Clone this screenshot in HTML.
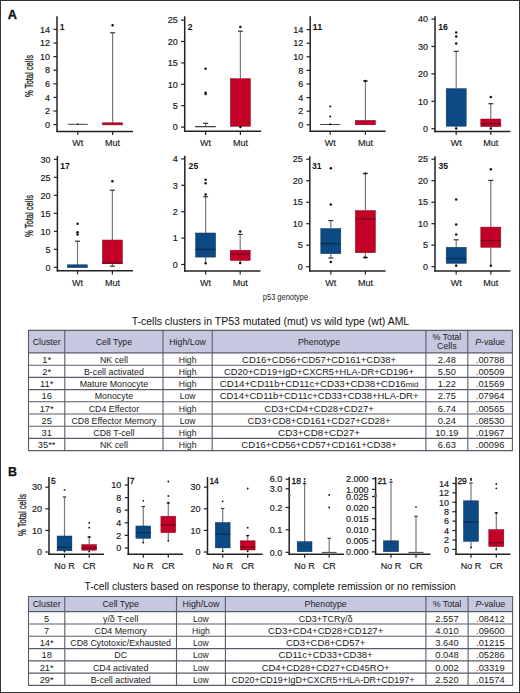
<!DOCTYPE html>
<html><head><meta charset="utf-8"><style>
html,body{margin:0;padding:0;background:#fff;}
#fig{position:absolute;left:0;top:0;width:520px;height:693px;box-sizing:border-box;border:1px solid #333;overflow:hidden;}
svg{position:absolute;left:0;top:0;}
text{font-family:"Liberation Sans", sans-serif;}
</style></head><body>
<div id="fig"></div>
<svg width="520" height="693" viewBox="0 0 520 693">
<line x1="67.8" y1="124.3" x2="87.8" y2="124.3" stroke="#444" stroke-width="1.0"/>
<circle cx="77.8" cy="124.1" r="0.8" fill="#111"/>
<line x1="112.6" y1="32.8" x2="112.6" y2="122.8" stroke="#7a7a7a" stroke-width="1.2"/>
<line x1="110.1" y1="32.8" x2="115.1" y2="32.8" stroke="#333" stroke-width="1.2"/>
<rect x="102.6" y="122.8" width="20" height="2.1000000000000085" fill="#c40026" stroke="#780a1e" stroke-width="0.5"/>
<circle cx="112.6" cy="25.32" r="1.25" fill="#111"/>
<line x1="57" y1="16.3" x2="57" y2="132.1" stroke="#222" stroke-width="1.5"/>
<line x1="56.3" y1="131.4" x2="133" y2="131.4" stroke="#222" stroke-width="1.5"/>
<line x1="53.4" y1="124.6" x2="57" y2="124.6" stroke="#222" stroke-width="1.2"/>
<text x="50.0" y="127.8" font-size="9.0" text-anchor="end" font-weight="normal" fill="#1a1a1a" stroke="#1a1a1a" stroke-width="0.18">0</text>
<line x1="53.4" y1="111.0" x2="57" y2="111.0" stroke="#222" stroke-width="1.2"/>
<text x="50.0" y="114.2" font-size="9.0" text-anchor="end" font-weight="normal" fill="#1a1a1a" stroke="#1a1a1a" stroke-width="0.18">2</text>
<line x1="53.4" y1="97.4" x2="57" y2="97.4" stroke="#222" stroke-width="1.2"/>
<text x="50.0" y="100.60000000000001" font-size="9.0" text-anchor="end" font-weight="normal" fill="#1a1a1a" stroke="#1a1a1a" stroke-width="0.18">4</text>
<line x1="53.4" y1="83.8" x2="57" y2="83.8" stroke="#222" stroke-width="1.2"/>
<text x="50.0" y="87.0" font-size="9.0" text-anchor="end" font-weight="normal" fill="#1a1a1a" stroke="#1a1a1a" stroke-width="0.18">6</text>
<line x1="53.4" y1="70.2" x2="57" y2="70.2" stroke="#222" stroke-width="1.2"/>
<text x="50.0" y="73.4" font-size="9.0" text-anchor="end" font-weight="normal" fill="#1a1a1a" stroke="#1a1a1a" stroke-width="0.18">8</text>
<line x1="53.4" y1="56.6" x2="57" y2="56.6" stroke="#222" stroke-width="1.2"/>
<text x="50.0" y="59.800000000000004" font-size="9.0" text-anchor="end" font-weight="normal" fill="#1a1a1a" stroke="#1a1a1a" stroke-width="0.18">10</text>
<line x1="53.4" y1="43.0" x2="57" y2="43.0" stroke="#222" stroke-width="1.2"/>
<text x="50.0" y="46.2" font-size="9.0" text-anchor="end" font-weight="normal" fill="#1a1a1a" stroke="#1a1a1a" stroke-width="0.18">12</text>
<line x1="53.4" y1="29.4" x2="57" y2="29.4" stroke="#222" stroke-width="1.2"/>
<text x="50.0" y="32.6" font-size="9.0" text-anchor="end" font-weight="normal" fill="#1a1a1a" stroke="#1a1a1a" stroke-width="0.18">14</text>
<line x1="77.8" y1="131.4" x2="77.8" y2="135.0" stroke="#222" stroke-width="1.2"/>
<text x="77.8" y="146.4" font-size="9.0" text-anchor="middle" font-weight="normal" fill="#1a1a1a" stroke="#1a1a1a" stroke-width="0.15">Wt</text>
<line x1="112.6" y1="131.4" x2="112.6" y2="135.0" stroke="#222" stroke-width="1.2"/>
<text x="112.6" y="146.4" font-size="9.0" text-anchor="middle" font-weight="normal" fill="#1a1a1a" stroke="#1a1a1a" stroke-width="0.15">Mut</text>
<text x="59.8" y="29.6" font-size="9.4" text-anchor="start" font-weight="bold" fill="#111" textLength="4.8" lengthAdjust="spacingAndGlyphs" >1</text>
<line x1="205.6" y1="123.3" x2="205.6" y2="126.5" stroke="#7a7a7a" stroke-width="1.2"/>
<line x1="203.1" y1="123.3" x2="208.1" y2="123.3" stroke="#333" stroke-width="1.2"/>
<rect x="195.6" y="126.5" width="20" height="0.5" fill="#0d4a84" stroke="#082f5a" stroke-width="0.5"/>
<line x1="195.6" y1="126.5" x2="215.6" y2="126.5" stroke="#444" stroke-width="1.0"/>
<circle cx="205.6" cy="68.8" r="1.25" fill="#111"/>
<circle cx="205.6" cy="92.7" r="1.25" fill="#111"/>
<circle cx="205.6" cy="94.0" r="1.25" fill="#111"/>
<line x1="240.4" y1="31.2" x2="240.4" y2="78.7" stroke="#7a7a7a" stroke-width="1.2"/>
<line x1="237.9" y1="31.2" x2="242.9" y2="31.2" stroke="#333" stroke-width="1.2"/>
<rect x="230.4" y="78.7" width="20" height="47.599999999999994" fill="#c40026" stroke="#780a1e" stroke-width="0.5"/>
<circle cx="240.4" cy="27.0" r="1.25" fill="#111"/>
<circle cx="240.4" cy="127.0" r="1.25" fill="#111"/>
<line x1="184.7" y1="16.3" x2="184.7" y2="132.0" stroke="#222" stroke-width="1.5"/>
<line x1="184.0" y1="131.3" x2="261.2" y2="131.3" stroke="#222" stroke-width="1.5"/>
<line x1="181.1" y1="127.1" x2="184.7" y2="127.1" stroke="#222" stroke-width="1.2"/>
<text x="177.7" y="130.29999999999998" font-size="9.0" text-anchor="end" font-weight="normal" fill="#1a1a1a" stroke="#1a1a1a" stroke-width="0.18">0</text>
<line x1="181.1" y1="105.7" x2="184.7" y2="105.7" stroke="#222" stroke-width="1.2"/>
<text x="177.7" y="108.9" font-size="9.0" text-anchor="end" font-weight="normal" fill="#1a1a1a" stroke="#1a1a1a" stroke-width="0.18">5</text>
<line x1="181.1" y1="84.3" x2="184.7" y2="84.3" stroke="#222" stroke-width="1.2"/>
<text x="177.7" y="87.5" font-size="9.0" text-anchor="end" font-weight="normal" fill="#1a1a1a" stroke="#1a1a1a" stroke-width="0.18">10</text>
<line x1="181.1" y1="62.9" x2="184.7" y2="62.9" stroke="#222" stroke-width="1.2"/>
<text x="177.7" y="66.1" font-size="9.0" text-anchor="end" font-weight="normal" fill="#1a1a1a" stroke="#1a1a1a" stroke-width="0.18">15</text>
<line x1="181.1" y1="41.5" x2="184.7" y2="41.5" stroke="#222" stroke-width="1.2"/>
<text x="177.7" y="44.7" font-size="9.0" text-anchor="end" font-weight="normal" fill="#1a1a1a" stroke="#1a1a1a" stroke-width="0.18">20</text>
<line x1="181.1" y1="20.1" x2="184.7" y2="20.1" stroke="#222" stroke-width="1.2"/>
<text x="177.7" y="23.3" font-size="9.0" text-anchor="end" font-weight="normal" fill="#1a1a1a" stroke="#1a1a1a" stroke-width="0.18">25</text>
<line x1="205.6" y1="131.3" x2="205.6" y2="134.9" stroke="#222" stroke-width="1.2"/>
<text x="205.6" y="146.4" font-size="9.0" text-anchor="middle" font-weight="normal" fill="#1a1a1a" stroke="#1a1a1a" stroke-width="0.15">Wt</text>
<line x1="240.4" y1="131.3" x2="240.4" y2="134.9" stroke="#222" stroke-width="1.2"/>
<text x="240.4" y="146.4" font-size="9.0" text-anchor="middle" font-weight="normal" fill="#1a1a1a" stroke="#1a1a1a" stroke-width="0.15">Mut</text>
<text x="187.8" y="29.6" font-size="9.4" text-anchor="start" font-weight="bold" fill="#111" textLength="4.8" lengthAdjust="spacingAndGlyphs" >2</text>
<line x1="320.2" y1="124.5" x2="340.2" y2="124.5" stroke="#444" stroke-width="1.0"/>
<circle cx="330.2" cy="106.5" r="1.0" fill="#111"/>
<circle cx="330.2" cy="116.5" r="1.0" fill="#111"/>
<circle cx="330.2" cy="124.2" r="1.0" fill="#111"/>
<line x1="365.4" y1="81.0" x2="365.4" y2="120.4" stroke="#7a7a7a" stroke-width="1.2"/>
<line x1="362.9" y1="81.0" x2="367.9" y2="81.0" stroke="#333" stroke-width="1.2"/>
<rect x="355.4" y="120.4" width="20" height="4.3999999999999915" fill="#c40026" stroke="#780a1e" stroke-width="0.5"/>
<circle cx="365.4" cy="81.0" r="1.25" fill="#111"/>
<line x1="310.2" y1="16.3" x2="310.2" y2="131.89999999999998" stroke="#222" stroke-width="1.5"/>
<line x1="309.5" y1="131.2" x2="385.6" y2="131.2" stroke="#222" stroke-width="1.5"/>
<line x1="306.59999999999997" y1="124.8" x2="310.2" y2="124.8" stroke="#222" stroke-width="1.2"/>
<text x="303.2" y="128.0" font-size="9.0" text-anchor="end" font-weight="normal" fill="#1a1a1a" stroke="#1a1a1a" stroke-width="0.18">0</text>
<line x1="306.59999999999997" y1="111.2" x2="310.2" y2="111.2" stroke="#222" stroke-width="1.2"/>
<text x="303.2" y="114.4" font-size="9.0" text-anchor="end" font-weight="normal" fill="#1a1a1a" stroke="#1a1a1a" stroke-width="0.18">2</text>
<line x1="306.59999999999997" y1="97.6" x2="310.2" y2="97.6" stroke="#222" stroke-width="1.2"/>
<text x="303.2" y="100.8" font-size="9.0" text-anchor="end" font-weight="normal" fill="#1a1a1a" stroke="#1a1a1a" stroke-width="0.18">4</text>
<line x1="306.59999999999997" y1="84.0" x2="310.2" y2="84.0" stroke="#222" stroke-width="1.2"/>
<text x="303.2" y="87.2" font-size="9.0" text-anchor="end" font-weight="normal" fill="#1a1a1a" stroke="#1a1a1a" stroke-width="0.18">6</text>
<line x1="306.59999999999997" y1="70.4" x2="310.2" y2="70.4" stroke="#222" stroke-width="1.2"/>
<text x="303.2" y="73.60000000000001" font-size="9.0" text-anchor="end" font-weight="normal" fill="#1a1a1a" stroke="#1a1a1a" stroke-width="0.18">8</text>
<line x1="306.59999999999997" y1="56.8" x2="310.2" y2="56.8" stroke="#222" stroke-width="1.2"/>
<text x="303.2" y="60.0" font-size="9.0" text-anchor="end" font-weight="normal" fill="#1a1a1a" stroke="#1a1a1a" stroke-width="0.18">10</text>
<line x1="306.59999999999997" y1="43.2" x2="310.2" y2="43.2" stroke="#222" stroke-width="1.2"/>
<text x="303.2" y="46.400000000000006" font-size="9.0" text-anchor="end" font-weight="normal" fill="#1a1a1a" stroke="#1a1a1a" stroke-width="0.18">12</text>
<line x1="306.59999999999997" y1="29.6" x2="310.2" y2="29.6" stroke="#222" stroke-width="1.2"/>
<text x="303.2" y="32.800000000000004" font-size="9.0" text-anchor="end" font-weight="normal" fill="#1a1a1a" stroke="#1a1a1a" stroke-width="0.18">14</text>
<line x1="330.2" y1="131.2" x2="330.2" y2="134.79999999999998" stroke="#222" stroke-width="1.2"/>
<text x="330.2" y="146.4" font-size="9.0" text-anchor="middle" font-weight="normal" fill="#1a1a1a" stroke="#1a1a1a" stroke-width="0.15">Wt</text>
<line x1="365.4" y1="131.2" x2="365.4" y2="134.79999999999998" stroke="#222" stroke-width="1.2"/>
<text x="365.4" y="146.4" font-size="9.0" text-anchor="middle" font-weight="normal" fill="#1a1a1a" stroke="#1a1a1a" stroke-width="0.15">Mut</text>
<text x="312.6" y="29.8" font-size="9.4" text-anchor="start" font-weight="bold" fill="#111" textLength="9.6" lengthAdjust="spacingAndGlyphs" >11</text>
<line x1="456.2" y1="51.3" x2="456.2" y2="88.7" stroke="#7a7a7a" stroke-width="1.2"/>
<line x1="453.7" y1="51.3" x2="458.7" y2="51.3" stroke="#333" stroke-width="1.2"/>
<line x1="456.2" y1="128.4" x2="456.2" y2="126.2" stroke="#7a7a7a" stroke-width="1.2"/>
<rect x="446.2" y="88.7" width="20" height="37.5" fill="#0d4a84" stroke="#082f5a" stroke-width="0.5"/>
<circle cx="456.2" cy="32.4" r="1.25" fill="#111"/>
<circle cx="456.2" cy="36.6" r="1.25" fill="#111"/>
<circle cx="456.2" cy="43.5" r="1.25" fill="#111"/>
<circle cx="456.2" cy="128.4" r="1.25" fill="#111"/>
<line x1="490.8" y1="103.7" x2="490.8" y2="119.0" stroke="#7a7a7a" stroke-width="1.2"/>
<line x1="488.3" y1="103.7" x2="493.3" y2="103.7" stroke="#333" stroke-width="1.2"/>
<line x1="490.8" y1="128.4" x2="490.8" y2="126.7" stroke="#7a7a7a" stroke-width="1.2"/>
<rect x="480.8" y="119.0" width="20" height="7.700000000000003" fill="#c40026" stroke="#780a1e" stroke-width="0.5"/>
<line x1="480.8" y1="123.8" x2="500.8" y2="123.8" stroke="#780a1e" stroke-width="1.5"/>
<circle cx="490.8" cy="97.0" r="1.25" fill="#111"/>
<circle cx="490.8" cy="128.4" r="1.25" fill="#111"/>
<line x1="435" y1="16.3" x2="435" y2="132.2" stroke="#222" stroke-width="1.5"/>
<line x1="434.3" y1="131.5" x2="510.4" y2="131.5" stroke="#222" stroke-width="1.5"/>
<line x1="431.4" y1="128.7" x2="435" y2="128.7" stroke="#222" stroke-width="1.2"/>
<text x="428.0" y="131.89999999999998" font-size="9.0" text-anchor="end" font-weight="normal" fill="#1a1a1a" stroke="#1a1a1a" stroke-width="0.18">0</text>
<line x1="431.4" y1="101.3" x2="435" y2="101.3" stroke="#222" stroke-width="1.2"/>
<text x="428.0" y="104.5" font-size="9.0" text-anchor="end" font-weight="normal" fill="#1a1a1a" stroke="#1a1a1a" stroke-width="0.18">10</text>
<line x1="431.4" y1="73.9" x2="435" y2="73.9" stroke="#222" stroke-width="1.2"/>
<text x="428.0" y="77.10000000000001" font-size="9.0" text-anchor="end" font-weight="normal" fill="#1a1a1a" stroke="#1a1a1a" stroke-width="0.18">20</text>
<line x1="431.4" y1="46.5" x2="435" y2="46.5" stroke="#222" stroke-width="1.2"/>
<text x="428.0" y="49.7" font-size="9.0" text-anchor="end" font-weight="normal" fill="#1a1a1a" stroke="#1a1a1a" stroke-width="0.18">30</text>
<line x1="431.4" y1="19.1" x2="435" y2="19.1" stroke="#222" stroke-width="1.2"/>
<text x="428.0" y="22.3" font-size="9.0" text-anchor="end" font-weight="normal" fill="#1a1a1a" stroke="#1a1a1a" stroke-width="0.18">40</text>
<line x1="456.2" y1="131.5" x2="456.2" y2="135.1" stroke="#222" stroke-width="1.2"/>
<text x="456.2" y="146.4" font-size="9.0" text-anchor="middle" font-weight="normal" fill="#1a1a1a" stroke="#1a1a1a" stroke-width="0.15">Wt</text>
<line x1="490.8" y1="131.5" x2="490.8" y2="135.1" stroke="#222" stroke-width="1.2"/>
<text x="490.8" y="146.4" font-size="9.0" text-anchor="middle" font-weight="normal" fill="#1a1a1a" stroke="#1a1a1a" stroke-width="0.15">Mut</text>
<text x="438.2" y="29.6" font-size="9.4" text-anchor="start" font-weight="bold" fill="#111" textLength="9.6" lengthAdjust="spacingAndGlyphs" >16</text>
<line x1="77.5" y1="241.2" x2="77.5" y2="264.8" stroke="#7a7a7a" stroke-width="1.2"/>
<line x1="75.0" y1="241.2" x2="80.0" y2="241.2" stroke="#333" stroke-width="1.2"/>
<rect x="67.5" y="264.8" width="20" height="2.8000000000000114" fill="#0d4a84" stroke="#082f5a" stroke-width="0.5"/>
<circle cx="77.5" cy="234.4" r="1.25" fill="#111"/>
<circle cx="77.5" cy="232.3" r="1.25" fill="#111"/>
<circle cx="77.5" cy="223.8" r="1.25" fill="#111"/>
<line x1="112.4" y1="190.2" x2="112.4" y2="240.0" stroke="#7a7a7a" stroke-width="1.2"/>
<line x1="109.9" y1="190.2" x2="114.9" y2="190.2" stroke="#333" stroke-width="1.2"/>
<line x1="112.4" y1="266.2" x2="112.4" y2="263.8" stroke="#7a7a7a" stroke-width="1.2"/>
<line x1="109.9" y1="266.2" x2="114.9" y2="266.2" stroke="#333" stroke-width="1.2"/>
<rect x="102.4" y="240.0" width="20" height="23.80000000000001" fill="#c40026" stroke="#780a1e" stroke-width="0.5"/>
<line x1="102.4" y1="263.0" x2="122.4" y2="263.0" stroke="#780a1e" stroke-width="1.5"/>
<circle cx="112.4" cy="181.3" r="1.25" fill="#111"/>
<line x1="57.4" y1="155.9" x2="57.4" y2="271.5" stroke="#222" stroke-width="1.5"/>
<line x1="56.699999999999996" y1="270.8" x2="133" y2="270.8" stroke="#222" stroke-width="1.5"/>
<line x1="53.8" y1="267.3" x2="57.4" y2="267.3" stroke="#222" stroke-width="1.2"/>
<text x="50.4" y="270.5" font-size="9.0" text-anchor="end" font-weight="normal" fill="#1a1a1a" stroke="#1a1a1a" stroke-width="0.18">0</text>
<line x1="53.8" y1="249.3" x2="57.4" y2="249.3" stroke="#222" stroke-width="1.2"/>
<text x="50.4" y="252.5" font-size="9.0" text-anchor="end" font-weight="normal" fill="#1a1a1a" stroke="#1a1a1a" stroke-width="0.18">5</text>
<line x1="53.8" y1="231.3" x2="57.4" y2="231.3" stroke="#222" stroke-width="1.2"/>
<text x="50.4" y="234.5" font-size="9.0" text-anchor="end" font-weight="normal" fill="#1a1a1a" stroke="#1a1a1a" stroke-width="0.18">10</text>
<line x1="53.8" y1="213.3" x2="57.4" y2="213.3" stroke="#222" stroke-width="1.2"/>
<text x="50.4" y="216.5" font-size="9.0" text-anchor="end" font-weight="normal" fill="#1a1a1a" stroke="#1a1a1a" stroke-width="0.18">15</text>
<line x1="53.8" y1="195.3" x2="57.4" y2="195.3" stroke="#222" stroke-width="1.2"/>
<text x="50.4" y="198.5" font-size="9.0" text-anchor="end" font-weight="normal" fill="#1a1a1a" stroke="#1a1a1a" stroke-width="0.18">20</text>
<line x1="53.8" y1="177.3" x2="57.4" y2="177.3" stroke="#222" stroke-width="1.2"/>
<text x="50.4" y="180.5" font-size="9.0" text-anchor="end" font-weight="normal" fill="#1a1a1a" stroke="#1a1a1a" stroke-width="0.18">25</text>
<line x1="53.8" y1="159.3" x2="57.4" y2="159.3" stroke="#222" stroke-width="1.2"/>
<text x="50.4" y="162.5" font-size="9.0" text-anchor="end" font-weight="normal" fill="#1a1a1a" stroke="#1a1a1a" stroke-width="0.18">30</text>
<line x1="77.5" y1="270.8" x2="77.5" y2="274.40000000000003" stroke="#222" stroke-width="1.2"/>
<text x="77.5" y="286.0" font-size="9.0" text-anchor="middle" font-weight="normal" fill="#1a1a1a" stroke="#1a1a1a" stroke-width="0.15">Wt</text>
<line x1="112.4" y1="270.8" x2="112.4" y2="274.40000000000003" stroke="#222" stroke-width="1.2"/>
<text x="112.4" y="286.0" font-size="9.0" text-anchor="middle" font-weight="normal" fill="#1a1a1a" stroke="#1a1a1a" stroke-width="0.15">Mut</text>
<text x="60.2" y="169" font-size="9.4" text-anchor="start" font-weight="bold" fill="#111" textLength="9.6" lengthAdjust="spacingAndGlyphs" >17</text>
<line x1="205.6" y1="196.7" x2="205.6" y2="233.0" stroke="#7a7a7a" stroke-width="1.2"/>
<line x1="203.1" y1="196.7" x2="208.1" y2="196.7" stroke="#333" stroke-width="1.2"/>
<line x1="205.6" y1="263.3" x2="205.6" y2="257.1" stroke="#7a7a7a" stroke-width="1.2"/>
<rect x="195.6" y="233.0" width="20" height="24.100000000000023" fill="#0d4a84" stroke="#082f5a" stroke-width="0.5"/>
<line x1="195.6" y1="249.4" x2="215.6" y2="249.4" stroke="#082f5a" stroke-width="1.5"/>
<circle cx="205.6" cy="194.6" r="1.25" fill="#111"/>
<circle cx="205.6" cy="183.3" r="1.25" fill="#111"/>
<circle cx="205.6" cy="179.8" r="1.25" fill="#111"/>
<circle cx="205.6" cy="263.3" r="1.25" fill="#111"/>
<line x1="240.2" y1="234.4" x2="240.2" y2="250.2" stroke="#7a7a7a" stroke-width="1.2"/>
<line x1="237.7" y1="234.4" x2="242.7" y2="234.4" stroke="#333" stroke-width="1.2"/>
<line x1="240.2" y1="263.0" x2="240.2" y2="260.4" stroke="#7a7a7a" stroke-width="1.2"/>
<rect x="230.2" y="250.2" width="20" height="10.199999999999989" fill="#c40026" stroke="#780a1e" stroke-width="0.5"/>
<line x1="230.2" y1="254.2" x2="250.2" y2="254.2" stroke="#780a1e" stroke-width="1.5"/>
<circle cx="240.2" cy="231.5" r="1.25" fill="#111"/>
<circle cx="240.2" cy="263.0" r="1.25" fill="#111"/>
<line x1="184.8" y1="155.8" x2="184.8" y2="271.7" stroke="#222" stroke-width="1.5"/>
<line x1="184.10000000000002" y1="271" x2="260.4" y2="271" stroke="#222" stroke-width="1.5"/>
<line x1="181.20000000000002" y1="264.5" x2="184.8" y2="264.5" stroke="#222" stroke-width="1.2"/>
<text x="177.8" y="267.7" font-size="9.0" text-anchor="end" font-weight="normal" fill="#1a1a1a" stroke="#1a1a1a" stroke-width="0.18">0</text>
<line x1="181.20000000000002" y1="238.1" x2="184.8" y2="238.1" stroke="#222" stroke-width="1.2"/>
<text x="177.8" y="241.29999999999998" font-size="9.0" text-anchor="end" font-weight="normal" fill="#1a1a1a" stroke="#1a1a1a" stroke-width="0.18">1</text>
<line x1="181.20000000000002" y1="211.7" x2="184.8" y2="211.7" stroke="#222" stroke-width="1.2"/>
<text x="177.8" y="214.89999999999998" font-size="9.0" text-anchor="end" font-weight="normal" fill="#1a1a1a" stroke="#1a1a1a" stroke-width="0.18">2</text>
<line x1="181.20000000000002" y1="185.3" x2="184.8" y2="185.3" stroke="#222" stroke-width="1.2"/>
<text x="177.8" y="188.5" font-size="9.0" text-anchor="end" font-weight="normal" fill="#1a1a1a" stroke="#1a1a1a" stroke-width="0.18">3</text>
<line x1="181.20000000000002" y1="158.9" x2="184.8" y2="158.9" stroke="#222" stroke-width="1.2"/>
<text x="177.8" y="162.1" font-size="9.0" text-anchor="end" font-weight="normal" fill="#1a1a1a" stroke="#1a1a1a" stroke-width="0.18">4</text>
<line x1="205.6" y1="271" x2="205.6" y2="274.6" stroke="#222" stroke-width="1.2"/>
<text x="205.6" y="286.0" font-size="9.0" text-anchor="middle" font-weight="normal" fill="#1a1a1a" stroke="#1a1a1a" stroke-width="0.15">Wt</text>
<line x1="240.2" y1="271" x2="240.2" y2="274.6" stroke="#222" stroke-width="1.2"/>
<text x="240.2" y="286.0" font-size="9.0" text-anchor="middle" font-weight="normal" fill="#1a1a1a" stroke="#1a1a1a" stroke-width="0.15">Mut</text>
<text x="188.6" y="169.2" font-size="9.4" text-anchor="start" font-weight="bold" fill="#111" textLength="9.6" lengthAdjust="spacingAndGlyphs" >25</text>
<line x1="330.8" y1="220.6" x2="330.8" y2="228.6" stroke="#7a7a7a" stroke-width="1.2"/>
<line x1="328.3" y1="220.6" x2="333.3" y2="220.6" stroke="#333" stroke-width="1.2"/>
<line x1="330.8" y1="258.0" x2="330.8" y2="253.7" stroke="#7a7a7a" stroke-width="1.2"/>
<line x1="328.3" y1="258.0" x2="333.3" y2="258.0" stroke="#333" stroke-width="1.2"/>
<rect x="320.8" y="228.6" width="20" height="25.099999999999994" fill="#0d4a84" stroke="#082f5a" stroke-width="0.5"/>
<line x1="320.8" y1="243.7" x2="340.8" y2="243.7" stroke="#082f5a" stroke-width="1.5"/>
<circle cx="330.8" cy="204.4" r="1.25" fill="#111"/>
<circle cx="330.8" cy="168.3" r="1.25" fill="#111"/>
<circle cx="330.8" cy="262.0" r="1.25" fill="#111"/>
<line x1="365.4" y1="173.5" x2="365.4" y2="210.6" stroke="#7a7a7a" stroke-width="1.2"/>
<line x1="362.9" y1="173.5" x2="367.9" y2="173.5" stroke="#333" stroke-width="1.2"/>
<line x1="365.4" y1="257.5" x2="365.4" y2="252.7" stroke="#7a7a7a" stroke-width="1.2"/>
<line x1="362.9" y1="257.5" x2="367.9" y2="257.5" stroke="#333" stroke-width="1.2"/>
<rect x="355.4" y="210.6" width="20" height="42.099999999999994" fill="#c40026" stroke="#780a1e" stroke-width="0.5"/>
<line x1="355.4" y1="218.8" x2="375.4" y2="218.8" stroke="#780a1e" stroke-width="1.5"/>
<circle cx="365.4" cy="173.5" r="1.25" fill="#111"/>
<circle cx="365.4" cy="257.5" r="1.25" fill="#111"/>
<line x1="309.8" y1="156.2" x2="309.8" y2="271.7" stroke="#222" stroke-width="1.5"/>
<line x1="309.1" y1="271" x2="385.6" y2="271" stroke="#222" stroke-width="1.5"/>
<line x1="306.2" y1="266.7" x2="309.8" y2="266.7" stroke="#222" stroke-width="1.2"/>
<text x="302.8" y="269.9" font-size="9.0" text-anchor="end" font-weight="normal" fill="#1a1a1a" stroke="#1a1a1a" stroke-width="0.18">0</text>
<line x1="306.2" y1="245.2" x2="309.8" y2="245.2" stroke="#222" stroke-width="1.2"/>
<text x="302.8" y="248.39999999999998" font-size="9.0" text-anchor="end" font-weight="normal" fill="#1a1a1a" stroke="#1a1a1a" stroke-width="0.18">5</text>
<line x1="306.2" y1="223.7" x2="309.8" y2="223.7" stroke="#222" stroke-width="1.2"/>
<text x="302.8" y="226.89999999999998" font-size="9.0" text-anchor="end" font-weight="normal" fill="#1a1a1a" stroke="#1a1a1a" stroke-width="0.18">10</text>
<line x1="306.2" y1="202.2" x2="309.8" y2="202.2" stroke="#222" stroke-width="1.2"/>
<text x="302.8" y="205.39999999999998" font-size="9.0" text-anchor="end" font-weight="normal" fill="#1a1a1a" stroke="#1a1a1a" stroke-width="0.18">15</text>
<line x1="306.2" y1="180.7" x2="309.8" y2="180.7" stroke="#222" stroke-width="1.2"/>
<text x="302.8" y="183.89999999999998" font-size="9.0" text-anchor="end" font-weight="normal" fill="#1a1a1a" stroke="#1a1a1a" stroke-width="0.18">20</text>
<line x1="306.2" y1="159.2" x2="309.8" y2="159.2" stroke="#222" stroke-width="1.2"/>
<text x="302.8" y="162.39999999999998" font-size="9.0" text-anchor="end" font-weight="normal" fill="#1a1a1a" stroke="#1a1a1a" stroke-width="0.18">25</text>
<line x1="330.8" y1="271" x2="330.8" y2="274.6" stroke="#222" stroke-width="1.2"/>
<text x="330.8" y="286.0" font-size="9.0" text-anchor="middle" font-weight="normal" fill="#1a1a1a" stroke="#1a1a1a" stroke-width="0.15">Wt</text>
<line x1="365.4" y1="271" x2="365.4" y2="274.6" stroke="#222" stroke-width="1.2"/>
<text x="365.4" y="286.0" font-size="9.0" text-anchor="middle" font-weight="normal" fill="#1a1a1a" stroke="#1a1a1a" stroke-width="0.15">Mut</text>
<text x="312" y="169.2" font-size="9.4" text-anchor="start" font-weight="bold" fill="#111" textLength="9.6" lengthAdjust="spacingAndGlyphs" >31</text>
<line x1="456.2" y1="239.8" x2="456.2" y2="247.3" stroke="#7a7a7a" stroke-width="1.2"/>
<line x1="453.7" y1="239.8" x2="458.7" y2="239.8" stroke="#333" stroke-width="1.2"/>
<line x1="456.2" y1="265.8" x2="456.2" y2="263.3" stroke="#7a7a7a" stroke-width="1.2"/>
<rect x="446.2" y="247.3" width="20" height="16.0" fill="#0d4a84" stroke="#082f5a" stroke-width="0.5"/>
<line x1="446.2" y1="258.5" x2="466.2" y2="258.5" stroke="#082f5a" stroke-width="1.5"/>
<circle cx="456.2" cy="234.4" r="1.25" fill="#111"/>
<circle cx="456.2" cy="224.4" r="1.25" fill="#111"/>
<circle cx="456.2" cy="199.6" r="1.25" fill="#111"/>
<circle cx="456.2" cy="265.8" r="1.25" fill="#111"/>
<line x1="490.8" y1="180.4" x2="490.8" y2="227.1" stroke="#7a7a7a" stroke-width="1.2"/>
<line x1="488.3" y1="180.4" x2="493.3" y2="180.4" stroke="#333" stroke-width="1.2"/>
<line x1="490.8" y1="265.8" x2="490.8" y2="247.3" stroke="#7a7a7a" stroke-width="1.2"/>
<rect x="480.8" y="227.1" width="20" height="20.200000000000017" fill="#c40026" stroke="#780a1e" stroke-width="0.5"/>
<line x1="480.8" y1="240.6" x2="500.8" y2="240.6" stroke="#780a1e" stroke-width="1.5"/>
<circle cx="490.8" cy="169.2" r="1.25" fill="#111"/>
<circle cx="490.8" cy="265.8" r="1.25" fill="#111"/>
<line x1="435" y1="156.2" x2="435" y2="271.7" stroke="#222" stroke-width="1.5"/>
<line x1="434.3" y1="271" x2="510.4" y2="271" stroke="#222" stroke-width="1.5"/>
<line x1="431.4" y1="266.7" x2="435" y2="266.7" stroke="#222" stroke-width="1.2"/>
<text x="428.0" y="269.9" font-size="9.0" text-anchor="end" font-weight="normal" fill="#1a1a1a" stroke="#1a1a1a" stroke-width="0.18">0</text>
<line x1="431.4" y1="245.2" x2="435" y2="245.2" stroke="#222" stroke-width="1.2"/>
<text x="428.0" y="248.39999999999998" font-size="9.0" text-anchor="end" font-weight="normal" fill="#1a1a1a" stroke="#1a1a1a" stroke-width="0.18">5</text>
<line x1="431.4" y1="223.7" x2="435" y2="223.7" stroke="#222" stroke-width="1.2"/>
<text x="428.0" y="226.89999999999998" font-size="9.0" text-anchor="end" font-weight="normal" fill="#1a1a1a" stroke="#1a1a1a" stroke-width="0.18">10</text>
<line x1="431.4" y1="202.2" x2="435" y2="202.2" stroke="#222" stroke-width="1.2"/>
<text x="428.0" y="205.39999999999998" font-size="9.0" text-anchor="end" font-weight="normal" fill="#1a1a1a" stroke="#1a1a1a" stroke-width="0.18">15</text>
<line x1="431.4" y1="180.7" x2="435" y2="180.7" stroke="#222" stroke-width="1.2"/>
<text x="428.0" y="183.89999999999998" font-size="9.0" text-anchor="end" font-weight="normal" fill="#1a1a1a" stroke="#1a1a1a" stroke-width="0.18">20</text>
<line x1="431.4" y1="159.2" x2="435" y2="159.2" stroke="#222" stroke-width="1.2"/>
<text x="428.0" y="162.39999999999998" font-size="9.0" text-anchor="end" font-weight="normal" fill="#1a1a1a" stroke="#1a1a1a" stroke-width="0.18">25</text>
<line x1="456.2" y1="271" x2="456.2" y2="274.6" stroke="#222" stroke-width="1.2"/>
<text x="456.2" y="286.0" font-size="9.0" text-anchor="middle" font-weight="normal" fill="#1a1a1a" stroke="#1a1a1a" stroke-width="0.15">Wt</text>
<line x1="490.8" y1="271" x2="490.8" y2="274.6" stroke="#222" stroke-width="1.2"/>
<text x="490.8" y="286.0" font-size="9.0" text-anchor="middle" font-weight="normal" fill="#1a1a1a" stroke="#1a1a1a" stroke-width="0.15">Mut</text>
<text x="438.4" y="169" font-size="9.4" text-anchor="start" font-weight="bold" fill="#111" textLength="9.6" lengthAdjust="spacingAndGlyphs" >35</text>
<line x1="64.5" y1="497.0" x2="64.5" y2="536.0" stroke="#7a7a7a" stroke-width="1.2"/>
<line x1="62.8" y1="497.0" x2="66.2" y2="497.0" stroke="#333" stroke-width="1.2"/>
<line x1="64.5" y1="551.6" x2="64.5" y2="550.8" stroke="#7a7a7a" stroke-width="1.2"/>
<rect x="57.1" y="536.0" width="14.8" height="14.799999999999955" fill="#0d4a84" stroke="#082f5a" stroke-width="0.5"/>
<line x1="57.1" y1="547.3" x2="71.9" y2="547.3" stroke="#082f5a" stroke-width="1.5"/>
<circle cx="64.5" cy="489.8" r="0.9" fill="#111"/>
<circle cx="64.5" cy="551.6" r="0.9" fill="#111"/>
<line x1="89.2" y1="537.0" x2="89.2" y2="544.6" stroke="#7a7a7a" stroke-width="1.2"/>
<line x1="87.5" y1="537.0" x2="90.9" y2="537.0" stroke="#333" stroke-width="1.2"/>
<line x1="89.2" y1="551.6" x2="89.2" y2="550.2" stroke="#7a7a7a" stroke-width="1.2"/>
<rect x="81.8" y="544.6" width="14.8" height="5.600000000000023" fill="#c40026" stroke="#780a1e" stroke-width="0.5"/>
<line x1="81.8" y1="548.0" x2="96.60000000000001" y2="548.0" stroke="#780a1e" stroke-width="1.5"/>
<circle cx="89.2" cy="537.0" r="0.9" fill="#111"/>
<circle cx="89.2" cy="527.7" r="0.9" fill="#111"/>
<circle cx="89.2" cy="522.9" r="0.9" fill="#111"/>
<circle cx="89.2" cy="551.6" r="0.9" fill="#111"/>
<line x1="49" y1="477" x2="49" y2="554.9000000000001" stroke="#222" stroke-width="1.5"/>
<line x1="48.3" y1="554.2" x2="104" y2="554.2" stroke="#222" stroke-width="1.5"/>
<line x1="45.4" y1="552.0" x2="49" y2="552.0" stroke="#222" stroke-width="1.2"/>
<text x="42.0" y="555.2" font-size="9.0" text-anchor="end" font-weight="normal" fill="#1a1a1a" stroke="#1a1a1a" stroke-width="0.18">0</text>
<line x1="45.4" y1="530.4" x2="49" y2="530.4" stroke="#222" stroke-width="1.2"/>
<text x="42.0" y="533.6" font-size="9.0" text-anchor="end" font-weight="normal" fill="#1a1a1a" stroke="#1a1a1a" stroke-width="0.18">10</text>
<line x1="45.4" y1="508.8" x2="49" y2="508.8" stroke="#222" stroke-width="1.2"/>
<text x="42.0" y="512.0" font-size="9.0" text-anchor="end" font-weight="normal" fill="#1a1a1a" stroke="#1a1a1a" stroke-width="0.18">20</text>
<line x1="45.4" y1="487.2" x2="49" y2="487.2" stroke="#222" stroke-width="1.2"/>
<text x="42.0" y="490.4" font-size="9.0" text-anchor="end" font-weight="normal" fill="#1a1a1a" stroke="#1a1a1a" stroke-width="0.18">30</text>
<line x1="64.5" y1="554.2" x2="64.5" y2="557.8000000000001" stroke="#222" stroke-width="1.2"/>
<text x="64.5" y="568.9" font-size="9.0" text-anchor="middle" font-weight="normal" fill="#1a1a1a" stroke="#1a1a1a" stroke-width="0.15">No R</text>
<line x1="89.2" y1="554.2" x2="89.2" y2="557.8000000000001" stroke="#222" stroke-width="1.2"/>
<text x="89.2" y="568.9" font-size="9.0" text-anchor="middle" font-weight="normal" fill="#1a1a1a" stroke="#1a1a1a" stroke-width="0.15">CR</text>
<text x="51" y="483.6" font-size="9.2" text-anchor="start" font-weight="normal" fill="#111" textLength="4.7" lengthAdjust="spacingAndGlyphs" stroke="#111" stroke-width="0.3">5</text>
<line x1="143.3" y1="506.5" x2="143.3" y2="526.0" stroke="#7a7a7a" stroke-width="1.2"/>
<line x1="141.60000000000002" y1="506.5" x2="145.0" y2="506.5" stroke="#333" stroke-width="1.2"/>
<line x1="143.3" y1="542.7" x2="143.3" y2="538.3" stroke="#7a7a7a" stroke-width="1.2"/>
<rect x="135.9" y="526.0" width="14.8" height="12.299999999999955" fill="#0d4a84" stroke="#082f5a" stroke-width="0.5"/>
<line x1="135.9" y1="532.7" x2="150.70000000000002" y2="532.7" stroke="#082f5a" stroke-width="1.5"/>
<circle cx="143.3" cy="500.8" r="0.9" fill="#111"/>
<circle cx="143.3" cy="542.7" r="0.9" fill="#111"/>
<line x1="168.3" y1="502.9" x2="168.3" y2="516.2" stroke="#7a7a7a" stroke-width="1.2"/>
<line x1="166.60000000000002" y1="502.9" x2="170.0" y2="502.9" stroke="#333" stroke-width="1.2"/>
<line x1="168.3" y1="540.8" x2="168.3" y2="532.7" stroke="#7a7a7a" stroke-width="1.2"/>
<rect x="160.9" y="516.2" width="14.8" height="16.5" fill="#c40026" stroke="#780a1e" stroke-width="0.5"/>
<line x1="160.9" y1="524.8" x2="175.70000000000002" y2="524.8" stroke="#780a1e" stroke-width="1.5"/>
<circle cx="168.3" cy="502.9" r="0.9" fill="#111"/>
<circle cx="168.3" cy="496.0" r="0.9" fill="#111"/>
<circle cx="168.3" cy="481.5" r="0.9" fill="#111"/>
<circle cx="168.3" cy="540.8" r="0.9" fill="#111"/>
<line x1="128.3" y1="477" x2="128.3" y2="554.9000000000001" stroke="#222" stroke-width="1.5"/>
<line x1="127.60000000000001" y1="554.2" x2="183" y2="554.2" stroke="#222" stroke-width="1.5"/>
<line x1="124.70000000000002" y1="548.0" x2="128.3" y2="548.0" stroke="#222" stroke-width="1.2"/>
<text x="121.30000000000001" y="551.2" font-size="9.0" text-anchor="end" font-weight="normal" fill="#1a1a1a" stroke="#1a1a1a" stroke-width="0.18">0</text>
<line x1="124.70000000000002" y1="535.4" x2="128.3" y2="535.4" stroke="#222" stroke-width="1.2"/>
<text x="121.30000000000001" y="538.6" font-size="9.0" text-anchor="end" font-weight="normal" fill="#1a1a1a" stroke="#1a1a1a" stroke-width="0.18">2</text>
<line x1="124.70000000000002" y1="522.8" x2="128.3" y2="522.8" stroke="#222" stroke-width="1.2"/>
<text x="121.30000000000001" y="526.0" font-size="9.0" text-anchor="end" font-weight="normal" fill="#1a1a1a" stroke="#1a1a1a" stroke-width="0.18">4</text>
<line x1="124.70000000000002" y1="510.2" x2="128.3" y2="510.2" stroke="#222" stroke-width="1.2"/>
<text x="121.30000000000001" y="513.4" font-size="9.0" text-anchor="end" font-weight="normal" fill="#1a1a1a" stroke="#1a1a1a" stroke-width="0.18">6</text>
<line x1="124.70000000000002" y1="497.6" x2="128.3" y2="497.6" stroke="#222" stroke-width="1.2"/>
<text x="121.30000000000001" y="500.8" font-size="9.0" text-anchor="end" font-weight="normal" fill="#1a1a1a" stroke="#1a1a1a" stroke-width="0.18">8</text>
<line x1="124.70000000000002" y1="485.0" x2="128.3" y2="485.0" stroke="#222" stroke-width="1.2"/>
<text x="121.30000000000001" y="488.2" font-size="9.0" text-anchor="end" font-weight="normal" fill="#1a1a1a" stroke="#1a1a1a" stroke-width="0.18">10</text>
<line x1="143.3" y1="554.2" x2="143.3" y2="557.8000000000001" stroke="#222" stroke-width="1.2"/>
<text x="143.3" y="568.9" font-size="9.0" text-anchor="middle" font-weight="normal" fill="#1a1a1a" stroke="#1a1a1a" stroke-width="0.15">No R</text>
<line x1="168.3" y1="554.2" x2="168.3" y2="557.8000000000001" stroke="#222" stroke-width="1.2"/>
<text x="168.3" y="568.9" font-size="9.0" text-anchor="middle" font-weight="normal" fill="#1a1a1a" stroke="#1a1a1a" stroke-width="0.15">CR</text>
<text x="129.8" y="484" font-size="9.2" text-anchor="start" font-weight="normal" fill="#111" textLength="4.7" lengthAdjust="spacingAndGlyphs" stroke="#111" stroke-width="0.3">7</text>
<line x1="222.7" y1="508.5" x2="222.7" y2="522.5" stroke="#7a7a7a" stroke-width="1.2"/>
<line x1="221.0" y1="508.5" x2="224.39999999999998" y2="508.5" stroke="#333" stroke-width="1.2"/>
<line x1="222.7" y1="551.3" x2="222.7" y2="547.9" stroke="#7a7a7a" stroke-width="1.2"/>
<rect x="215.29999999999998" y="522.5" width="14.8" height="25.399999999999977" fill="#0d4a84" stroke="#082f5a" stroke-width="0.5"/>
<line x1="215.29999999999998" y1="534.0" x2="230.1" y2="534.0" stroke="#082f5a" stroke-width="1.5"/>
<circle cx="222.7" cy="501.3" r="0.9" fill="#111"/>
<circle cx="222.7" cy="551.3" r="0.9" fill="#111"/>
<line x1="247.7" y1="535.6" x2="247.7" y2="540.8" stroke="#7a7a7a" stroke-width="1.2"/>
<line x1="246.0" y1="535.6" x2="249.39999999999998" y2="535.6" stroke="#333" stroke-width="1.2"/>
<line x1="247.7" y1="551.3" x2="247.7" y2="550.0" stroke="#7a7a7a" stroke-width="1.2"/>
<rect x="240.29999999999998" y="540.8" width="14.8" height="9.200000000000045" fill="#c40026" stroke="#780a1e" stroke-width="0.5"/>
<line x1="240.29999999999998" y1="547.0" x2="255.1" y2="547.0" stroke="#780a1e" stroke-width="1.5"/>
<circle cx="247.7" cy="535.6" r="0.9" fill="#111"/>
<circle cx="247.7" cy="527.7" r="0.9" fill="#111"/>
<circle cx="247.7" cy="488.5" r="0.9" fill="#111"/>
<circle cx="247.7" cy="551.3" r="0.9" fill="#111"/>
<line x1="207.5" y1="477" x2="207.5" y2="554.9000000000001" stroke="#222" stroke-width="1.5"/>
<line x1="206.8" y1="554.2" x2="262.7" y2="554.2" stroke="#222" stroke-width="1.5"/>
<line x1="203.9" y1="552.0" x2="207.5" y2="552.0" stroke="#222" stroke-width="1.2"/>
<text x="200.5" y="555.2" font-size="9.0" text-anchor="end" font-weight="normal" fill="#1a1a1a" stroke="#1a1a1a" stroke-width="0.18">0</text>
<line x1="203.9" y1="530.4" x2="207.5" y2="530.4" stroke="#222" stroke-width="1.2"/>
<text x="200.5" y="533.6" font-size="9.0" text-anchor="end" font-weight="normal" fill="#1a1a1a" stroke="#1a1a1a" stroke-width="0.18">10</text>
<line x1="203.9" y1="508.8" x2="207.5" y2="508.8" stroke="#222" stroke-width="1.2"/>
<text x="200.5" y="512.0" font-size="9.0" text-anchor="end" font-weight="normal" fill="#1a1a1a" stroke="#1a1a1a" stroke-width="0.18">20</text>
<line x1="203.9" y1="487.2" x2="207.5" y2="487.2" stroke="#222" stroke-width="1.2"/>
<text x="200.5" y="490.4" font-size="9.0" text-anchor="end" font-weight="normal" fill="#1a1a1a" stroke="#1a1a1a" stroke-width="0.18">30</text>
<line x1="222.7" y1="554.2" x2="222.7" y2="557.8000000000001" stroke="#222" stroke-width="1.2"/>
<text x="222.7" y="568.9" font-size="9.0" text-anchor="middle" font-weight="normal" fill="#1a1a1a" stroke="#1a1a1a" stroke-width="0.15">No R</text>
<line x1="247.7" y1="554.2" x2="247.7" y2="557.8000000000001" stroke="#222" stroke-width="1.2"/>
<text x="247.7" y="568.9" font-size="9.0" text-anchor="middle" font-weight="normal" fill="#1a1a1a" stroke="#1a1a1a" stroke-width="0.15">CR</text>
<text x="209.4" y="483.7" font-size="9.2" text-anchor="start" font-weight="normal" fill="#111" textLength="9.4" lengthAdjust="spacingAndGlyphs" stroke="#111" stroke-width="0.3">14</text>
<line x1="304.6" y1="483.6" x2="304.6" y2="541.7" stroke="#7a7a7a" stroke-width="1.2"/>
<line x1="302.90000000000003" y1="483.6" x2="306.3" y2="483.6" stroke="#333" stroke-width="1.2"/>
<rect x="297.20000000000005" y="541.7" width="14.8" height="10.0" fill="#0d4a84" stroke="#082f5a" stroke-width="0.5"/>
<circle cx="304.6" cy="478.9" r="0.9" fill="#111"/>
<circle cx="304.6" cy="481.6" r="0.9" fill="#111"/>
<line x1="329.2" y1="538.3" x2="329.2" y2="552.0" stroke="#7a7a7a" stroke-width="1.2"/>
<line x1="327.5" y1="538.3" x2="330.9" y2="538.3" stroke="#333" stroke-width="1.2"/>
<line x1="321.8" y1="552.4" x2="336.59999999999997" y2="552.4" stroke="#444" stroke-width="1.0"/>
<circle cx="329.2" cy="507.5" r="0.9" fill="#111"/>
<circle cx="329.2" cy="495.0" r="0.9" fill="#111"/>
<line x1="289.2" y1="477" x2="289.2" y2="554.9000000000001" stroke="#222" stroke-width="1.5"/>
<line x1="288.5" y1="554.2" x2="344" y2="554.2" stroke="#222" stroke-width="1.5"/>
<line x1="285.59999999999997" y1="479.2" x2="289.2" y2="479.2" stroke="#222" stroke-width="1.2"/>
<text x="282.2" y="482.4" font-size="9.0" text-anchor="end" font-weight="normal" fill="#1a1a1a" stroke="#1a1a1a" stroke-width="0.18">6.0</text>
<line x1="285.59999999999997" y1="488.8" x2="289.2" y2="488.8" stroke="#222" stroke-width="1.2"/>
<text x="282.2" y="492.0" font-size="9.0" text-anchor="end" font-weight="normal" fill="#1a1a1a" stroke="#1a1a1a" stroke-width="0.18">3.0</text>
<line x1="285.59999999999997" y1="507.5" x2="289.2" y2="507.5" stroke="#222" stroke-width="1.2"/>
<text x="282.2" y="510.7" font-size="9.0" text-anchor="end" font-weight="normal" fill="#1a1a1a" stroke="#1a1a1a" stroke-width="0.18">0.2</text>
<line x1="285.59999999999997" y1="529.8" x2="289.2" y2="529.8" stroke="#222" stroke-width="1.2"/>
<text x="282.2" y="533.0" font-size="9.0" text-anchor="end" font-weight="normal" fill="#1a1a1a" stroke="#1a1a1a" stroke-width="0.18">0.1</text>
<line x1="285.59999999999997" y1="552.3" x2="289.2" y2="552.3" stroke="#222" stroke-width="1.2"/>
<text x="282.2" y="555.5" font-size="9.0" text-anchor="end" font-weight="normal" fill="#1a1a1a" stroke="#1a1a1a" stroke-width="0.18">0.0</text>
<line x1="304.6" y1="554.2" x2="304.6" y2="557.8000000000001" stroke="#222" stroke-width="1.2"/>
<text x="304.6" y="568.9" font-size="9.0" text-anchor="middle" font-weight="normal" fill="#1a1a1a" stroke="#1a1a1a" stroke-width="0.15">No R</text>
<line x1="329.2" y1="554.2" x2="329.2" y2="557.8000000000001" stroke="#222" stroke-width="1.2"/>
<text x="329.2" y="568.9" font-size="9.0" text-anchor="middle" font-weight="normal" fill="#1a1a1a" stroke="#1a1a1a" stroke-width="0.15">CR</text>
<rect x="287.9" y="494.0" width="2.6" height="3.2" rx="0.8" fill="#666"/>
<text x="291.6" y="483.6" font-size="9.2" text-anchor="start" font-weight="normal" fill="#111" textLength="9.4" lengthAdjust="spacingAndGlyphs" stroke="#111" stroke-width="0.3">18</text>
<line x1="391.0" y1="482.0" x2="391.0" y2="540.8" stroke="#7a7a7a" stroke-width="1.2"/>
<line x1="389.3" y1="482.0" x2="392.7" y2="482.0" stroke="#333" stroke-width="1.2"/>
<rect x="383.4" y="540.8" width="15.2" height="10.900000000000091" fill="#0d4a84" stroke="#082f5a" stroke-width="0.5"/>
<circle cx="391.0" cy="479.6" r="0.9" fill="#111"/>
<line x1="416.0" y1="516.3" x2="416.0" y2="552.0" stroke="#7a7a7a" stroke-width="1.2"/>
<line x1="414.3" y1="516.3" x2="417.7" y2="516.3" stroke="#333" stroke-width="1.2"/>
<line x1="408.4" y1="552.4" x2="423.6" y2="552.4" stroke="#444" stroke-width="1.0"/>
<circle cx="416.0" cy="507.1" r="0.9" fill="#111"/>
<line x1="375.6" y1="477" x2="375.6" y2="554.9000000000001" stroke="#222" stroke-width="1.5"/>
<line x1="374.90000000000003" y1="554.2" x2="430.4" y2="554.2" stroke="#222" stroke-width="1.5"/>
<line x1="372.0" y1="478.7" x2="375.6" y2="478.7" stroke="#222" stroke-width="1.2"/>
<text x="368.6" y="481.9" font-size="9.0" text-anchor="end" font-weight="normal" fill="#1a1a1a" stroke="#1a1a1a" stroke-width="0.18">2.000</text>
<line x1="372.0" y1="489.4" x2="375.6" y2="489.4" stroke="#222" stroke-width="1.2"/>
<text x="368.6" y="492.59999999999997" font-size="9.0" text-anchor="end" font-weight="normal" fill="#1a1a1a" stroke="#1a1a1a" stroke-width="0.18">1.000</text>
<line x1="372.0" y1="496.5" x2="375.6" y2="496.5" stroke="#222" stroke-width="1.2"/>
<text x="368.6" y="499.7" font-size="9.0" text-anchor="end" font-weight="normal" fill="#1a1a1a" stroke="#1a1a1a" stroke-width="0.18">0.025</text>
<line x1="372.0" y1="507.5" x2="375.6" y2="507.5" stroke="#222" stroke-width="1.2"/>
<text x="368.6" y="510.7" font-size="9.0" text-anchor="end" font-weight="normal" fill="#1a1a1a" stroke="#1a1a1a" stroke-width="0.18">0.020</text>
<line x1="372.0" y1="518.7" x2="375.6" y2="518.7" stroke="#222" stroke-width="1.2"/>
<text x="368.6" y="521.9000000000001" font-size="9.0" text-anchor="end" font-weight="normal" fill="#1a1a1a" stroke="#1a1a1a" stroke-width="0.18">0.015</text>
<line x1="372.0" y1="529.6" x2="375.6" y2="529.6" stroke="#222" stroke-width="1.2"/>
<text x="368.6" y="532.8000000000001" font-size="9.0" text-anchor="end" font-weight="normal" fill="#1a1a1a" stroke="#1a1a1a" stroke-width="0.18">0.010</text>
<line x1="372.0" y1="540.8" x2="375.6" y2="540.8" stroke="#222" stroke-width="1.2"/>
<text x="368.6" y="544.0" font-size="9.0" text-anchor="end" font-weight="normal" fill="#1a1a1a" stroke="#1a1a1a" stroke-width="0.18">0.005</text>
<line x1="372.0" y1="551.9" x2="375.6" y2="551.9" stroke="#222" stroke-width="1.2"/>
<text x="368.6" y="555.1" font-size="9.0" text-anchor="end" font-weight="normal" fill="#1a1a1a" stroke="#1a1a1a" stroke-width="0.18">0.000</text>
<line x1="391.0" y1="554.2" x2="391.0" y2="557.8000000000001" stroke="#222" stroke-width="1.2"/>
<text x="391.0" y="568.9" font-size="9.0" text-anchor="middle" font-weight="normal" fill="#1a1a1a" stroke="#1a1a1a" stroke-width="0.15">No R</text>
<line x1="416.0" y1="554.2" x2="416.0" y2="557.8000000000001" stroke="#222" stroke-width="1.2"/>
<text x="416.0" y="568.9" font-size="9.0" text-anchor="middle" font-weight="normal" fill="#1a1a1a" stroke="#1a1a1a" stroke-width="0.15">CR</text>
<rect x="374.3" y="494.0" width="2.6" height="3.2" rx="0.8" fill="#666"/>
<text x="377.4" y="483.6" font-size="9.2" text-anchor="start" font-weight="normal" fill="#111" textLength="9.4" lengthAdjust="spacingAndGlyphs" stroke="#111" stroke-width="0.3">21</text>
<line x1="471.0" y1="483.0" x2="471.0" y2="500.8" stroke="#7a7a7a" stroke-width="1.2"/>
<line x1="469.3" y1="483.0" x2="472.7" y2="483.0" stroke="#333" stroke-width="1.2"/>
<line x1="471.0" y1="547.5" x2="471.0" y2="541.3" stroke="#7a7a7a" stroke-width="1.2"/>
<rect x="463.5" y="500.8" width="15.0" height="40.49999999999994" fill="#0d4a84" stroke="#082f5a" stroke-width="0.5"/>
<line x1="463.5" y1="522.1" x2="478.5" y2="522.1" stroke="#082f5a" stroke-width="1.5"/>
<circle cx="471.0" cy="478.7" r="0.9" fill="#111"/>
<circle cx="471.0" cy="480.0" r="0.9" fill="#111"/>
<circle cx="471.0" cy="547.5" r="0.9" fill="#111"/>
<line x1="496.3" y1="512.9" x2="496.3" y2="529.6" stroke="#7a7a7a" stroke-width="1.2"/>
<line x1="494.6" y1="512.9" x2="498.0" y2="512.9" stroke="#333" stroke-width="1.2"/>
<line x1="496.3" y1="549.4" x2="496.3" y2="546.5" stroke="#7a7a7a" stroke-width="1.2"/>
<rect x="488.8" y="529.6" width="15.0" height="16.899999999999977" fill="#c40026" stroke="#780a1e" stroke-width="0.5"/>
<line x1="488.8" y1="542.7" x2="503.8" y2="542.7" stroke="#780a1e" stroke-width="1.5"/>
<circle cx="496.3" cy="512.9" r="0.9" fill="#111"/>
<circle cx="496.3" cy="484.0" r="0.9" fill="#111"/>
<circle cx="496.3" cy="488.3" r="0.9" fill="#111"/>
<circle cx="496.3" cy="549.4" r="0.9" fill="#111"/>
<line x1="456" y1="477" x2="456" y2="554.9000000000001" stroke="#222" stroke-width="1.5"/>
<line x1="455.3" y1="554.2" x2="510.4" y2="554.2" stroke="#222" stroke-width="1.5"/>
<line x1="452.4" y1="549.4" x2="456" y2="549.4" stroke="#222" stroke-width="1.2"/>
<text x="449.0" y="552.6" font-size="9.0" text-anchor="end" font-weight="normal" fill="#1a1a1a" stroke="#1a1a1a" stroke-width="0.18">0</text>
<line x1="452.4" y1="539.98" x2="456" y2="539.98" stroke="#222" stroke-width="1.2"/>
<text x="449.0" y="543.1800000000001" font-size="9.0" text-anchor="end" font-weight="normal" fill="#1a1a1a" stroke="#1a1a1a" stroke-width="0.18">2</text>
<line x1="452.4" y1="530.56" x2="456" y2="530.56" stroke="#222" stroke-width="1.2"/>
<text x="449.0" y="533.76" font-size="9.0" text-anchor="end" font-weight="normal" fill="#1a1a1a" stroke="#1a1a1a" stroke-width="0.18">4</text>
<line x1="452.4" y1="521.14" x2="456" y2="521.14" stroke="#222" stroke-width="1.2"/>
<text x="449.0" y="524.34" font-size="9.0" text-anchor="end" font-weight="normal" fill="#1a1a1a" stroke="#1a1a1a" stroke-width="0.18">6</text>
<line x1="452.4" y1="511.72" x2="456" y2="511.72" stroke="#222" stroke-width="1.2"/>
<text x="449.0" y="514.9200000000001" font-size="9.0" text-anchor="end" font-weight="normal" fill="#1a1a1a" stroke="#1a1a1a" stroke-width="0.18">8</text>
<line x1="452.4" y1="502.3" x2="456" y2="502.3" stroke="#222" stroke-width="1.2"/>
<text x="449.0" y="505.5" font-size="9.0" text-anchor="end" font-weight="normal" fill="#1a1a1a" stroke="#1a1a1a" stroke-width="0.18">10</text>
<line x1="452.4" y1="492.88" x2="456" y2="492.88" stroke="#222" stroke-width="1.2"/>
<text x="449.0" y="496.08" font-size="9.0" text-anchor="end" font-weight="normal" fill="#1a1a1a" stroke="#1a1a1a" stroke-width="0.18">12</text>
<line x1="452.4" y1="483.46" x2="456" y2="483.46" stroke="#222" stroke-width="1.2"/>
<text x="449.0" y="486.65999999999997" font-size="9.0" text-anchor="end" font-weight="normal" fill="#1a1a1a" stroke="#1a1a1a" stroke-width="0.18">14</text>
<line x1="471.0" y1="554.2" x2="471.0" y2="557.8000000000001" stroke="#222" stroke-width="1.2"/>
<text x="471.0" y="568.9" font-size="9.0" text-anchor="middle" font-weight="normal" fill="#1a1a1a" stroke="#1a1a1a" stroke-width="0.15">No R</text>
<line x1="496.3" y1="554.2" x2="496.3" y2="557.8000000000001" stroke="#222" stroke-width="1.2"/>
<text x="496.3" y="568.9" font-size="9.0" text-anchor="middle" font-weight="normal" fill="#1a1a1a" stroke="#1a1a1a" stroke-width="0.15">CR</text>
<text x="457.4" y="483.6" font-size="9.2" text-anchor="start" font-weight="normal" fill="#111" textLength="9.4" lengthAdjust="spacingAndGlyphs" stroke="#111" stroke-width="0.3">29</text>
<text x="7.8" y="18.8" font-size="13.4" text-anchor="start" font-weight="bold" fill="#111" textLength="9.2" lengthAdjust="spacingAndGlyphs" stroke="#111" stroke-width="0.35">A</text>
<text x="7.9" y="475.8" font-size="12.6" text-anchor="start" font-weight="bold" fill="#111" textLength="9.0" lengthAdjust="spacingAndGlyphs" stroke="#111" stroke-width="0.25">B</text>
<text x="0" y="0" font-size="10.4" text-anchor="middle" fill="#222" stroke="#222" stroke-width="0.3" textLength="42" lengthAdjust="spacingAndGlyphs" transform="translate(33.3,76) rotate(-90)">% Total cells</text>
<text x="0" y="0" font-size="10.4" text-anchor="middle" fill="#222" stroke="#222" stroke-width="0.3" textLength="42" lengthAdjust="spacingAndGlyphs" transform="translate(33.3,216) rotate(-90)">% Total cells</text>
<text x="0" y="0" font-size="10.4" text-anchor="middle" fill="#222" stroke="#222" stroke-width="0.3" textLength="42" lengthAdjust="spacingAndGlyphs" transform="translate(26,515) rotate(-90)">% Total cells</text>
<text x="285.5" y="300.4" font-size="9.0" text-anchor="middle" font-weight="normal" fill="#222" textLength="45.4" lengthAdjust="spacingAndGlyphs" >p53 genotype</text>
<rect x="28.5" y="330.4" width="483.9" height="22.5" fill="#c6c8e0" stroke="none" stroke-width="0"/>
<line x1="28.0" y1="330.4" x2="512.9" y2="330.4" stroke="#585c68" stroke-width="1.1"/>
<line x1="28.0" y1="352.9" x2="512.9" y2="352.9" stroke="#585c68" stroke-width="1.1"/>
<line x1="28.0" y1="365.2" x2="512.9" y2="365.2" stroke="#585c68" stroke-width="1.1"/>
<line x1="28.0" y1="377.4" x2="512.9" y2="377.4" stroke="#585c68" stroke-width="1.1"/>
<line x1="28.0" y1="389.6" x2="512.9" y2="389.6" stroke="#585c68" stroke-width="1.1"/>
<line x1="28.0" y1="401.8" x2="512.9" y2="401.8" stroke="#585c68" stroke-width="1.1"/>
<line x1="28.0" y1="414.0" x2="512.9" y2="414.0" stroke="#585c68" stroke-width="1.1"/>
<line x1="28.0" y1="426.2" x2="512.9" y2="426.2" stroke="#585c68" stroke-width="1.1"/>
<line x1="28.0" y1="438.4" x2="512.9" y2="438.4" stroke="#585c68" stroke-width="1.1"/>
<line x1="28.0" y1="450.6" x2="512.9" y2="450.6" stroke="#585c68" stroke-width="1.1"/>
<line x1="28.5" y1="330.4" x2="28.5" y2="450.6" stroke="#585c68" stroke-width="1.1"/>
<line x1="64.8" y1="330.4" x2="64.8" y2="450.6" stroke="#585c68" stroke-width="1.1"/>
<line x1="163.0" y1="330.4" x2="163.0" y2="450.6" stroke="#585c68" stroke-width="1.1"/>
<line x1="212.2" y1="330.4" x2="212.2" y2="450.6" stroke="#585c68" stroke-width="1.1"/>
<line x1="425.9" y1="330.4" x2="425.9" y2="450.6" stroke="#585c68" stroke-width="1.1"/>
<line x1="467.8" y1="330.4" x2="467.8" y2="450.6" stroke="#585c68" stroke-width="1.1"/>
<line x1="512.4" y1="330.4" x2="512.4" y2="450.6" stroke="#585c68" stroke-width="1.1"/>
<text x="131.7" y="324.8" font-size="10.6" text-anchor="start" font-weight="normal" fill="#111" textLength="277.5" lengthAdjust="spacingAndGlyphs" >T-cells clusters in TP53 mutated (mut) vs wild type (wt) AML</text>
<text x="46.65" y="344.84999999999997" font-size="8.8" text-anchor="middle" font-weight="normal" fill="#222" >Cluster</text>
<text x="113.9" y="344.84999999999997" font-size="8.8" text-anchor="middle" font-weight="normal" fill="#222" >Cell Type</text>
<text x="187.6" y="344.84999999999997" font-size="8.8" text-anchor="middle" font-weight="normal" fill="#222" >High/Low</text>
<text x="319.04999999999995" y="344.84999999999997" font-size="8.8" text-anchor="middle" font-weight="normal" fill="#222" >Phenotype</text>
<text x="446.85" y="340.0" font-size="8.8" text-anchor="middle" font-weight="normal" fill="#222" >% Total</text>
<text x="446.85" y="348.5" font-size="8.8" text-anchor="middle" font-weight="normal" fill="#222" >Cells</text>
<text x="490.1" y="344.84999999999997" font-size="8.8" text-anchor="middle" font-weight="normal" fill="#222" ><tspan font-style="italic">P</tspan>-value</text>
<text x="46.65" y="362.74999999999994" font-size="9.1" text-anchor="middle" font-weight="normal" fill="#1a1a1a" textLength="8.82" lengthAdjust="spacingAndGlyphs" >1*</text>
<text x="113.9" y="362.74999999999994" font-size="8.85" text-anchor="middle" font-weight="normal" fill="#1a1a1a" >NK cell</text>
<text x="187.6" y="362.74999999999994" font-size="8.6" text-anchor="middle" font-weight="normal" fill="#1a1a1a" >High</text>
<text x="319.04999999999995" y="362.74999999999994" font-size="8.6" text-anchor="middle" font-weight="normal" fill="#1a1a1a" textLength="154.0" lengthAdjust="spacingAndGlyphs" >CD16+CD56+CD57+CD161+CD38+</text>
<text x="446.85" y="362.74999999999994" font-size="9.1" text-anchor="middle" font-weight="normal" fill="#1a1a1a" textLength="18.16" lengthAdjust="spacingAndGlyphs" >2.48</text>
<text x="490.1" y="362.74999999999994" font-size="9.1" text-anchor="middle" font-weight="normal" fill="#1a1a1a" textLength="28.54" lengthAdjust="spacingAndGlyphs" >.00788</text>
<text x="46.65" y="374.99999999999994" font-size="9.1" text-anchor="middle" font-weight="normal" fill="#1a1a1a" textLength="8.82" lengthAdjust="spacingAndGlyphs" >2*</text>
<text x="113.9" y="374.99999999999994" font-size="8.85" text-anchor="middle" font-weight="normal" fill="#1a1a1a" >B-cell activated</text>
<text x="187.6" y="374.99999999999994" font-size="8.6" text-anchor="middle" font-weight="normal" fill="#1a1a1a" >High</text>
<text x="319.04999999999995" y="374.99999999999994" font-size="8.6" text-anchor="middle" font-weight="normal" fill="#1a1a1a" textLength="189.9" lengthAdjust="spacingAndGlyphs" >CD20+CD19+IgD+CXCR5+HLA-DR+CD196+</text>
<text x="446.85" y="374.99999999999994" font-size="9.1" text-anchor="middle" font-weight="normal" fill="#1a1a1a" textLength="18.16" lengthAdjust="spacingAndGlyphs" >5.50</text>
<text x="490.1" y="374.99999999999994" font-size="9.1" text-anchor="middle" font-weight="normal" fill="#1a1a1a" textLength="28.54" lengthAdjust="spacingAndGlyphs" >.00509</text>
<text x="46.65" y="387.2" font-size="9.1" text-anchor="middle" font-weight="normal" fill="#1a1a1a" textLength="13.32" lengthAdjust="spacingAndGlyphs" >11*</text>
<text x="113.9" y="387.2" font-size="8.85" text-anchor="middle" font-weight="normal" fill="#1a1a1a" >Mature Monocyte</text>
<text x="187.6" y="387.2" font-size="8.6" text-anchor="middle" font-weight="normal" fill="#1a1a1a" >High</text>
<text x="319.04999999999995" y="387.2" font-size="8.6" text-anchor="middle" font-weight="normal" fill="#1a1a1a" textLength="198.8" lengthAdjust="spacingAndGlyphs" >CD14+CD11b+CD11c+CD33+CD38+CD16<tspan font-size="7">mid</tspan></text>
<text x="446.85" y="387.2" font-size="9.1" text-anchor="middle" font-weight="normal" fill="#1a1a1a" textLength="18.16" lengthAdjust="spacingAndGlyphs" >1.22</text>
<text x="490.1" y="387.2" font-size="9.1" text-anchor="middle" font-weight="normal" fill="#1a1a1a" textLength="28.54" lengthAdjust="spacingAndGlyphs" >.01569</text>
<text x="46.65" y="399.40000000000003" font-size="9.1" text-anchor="middle" font-weight="normal" fill="#1a1a1a" textLength="10.38" lengthAdjust="spacingAndGlyphs" >16</text>
<text x="113.9" y="399.40000000000003" font-size="8.85" text-anchor="middle" font-weight="normal" fill="#1a1a1a" >Monocyte</text>
<text x="187.6" y="399.40000000000003" font-size="8.6" text-anchor="middle" font-weight="normal" fill="#1a1a1a" >Low</text>
<text x="319.04999999999995" y="399.40000000000003" font-size="8.6" text-anchor="middle" font-weight="normal" fill="#1a1a1a" textLength="198.8" lengthAdjust="spacingAndGlyphs" >CD14+CD11b+CD11c+CD33+CD38+HLA-DR+</text>
<text x="446.85" y="399.40000000000003" font-size="9.1" text-anchor="middle" font-weight="normal" fill="#1a1a1a" textLength="18.16" lengthAdjust="spacingAndGlyphs" >2.75</text>
<text x="490.1" y="399.40000000000003" font-size="9.1" text-anchor="middle" font-weight="normal" fill="#1a1a1a" textLength="28.54" lengthAdjust="spacingAndGlyphs" >.07964</text>
<text x="46.65" y="411.59999999999997" font-size="9.1" text-anchor="middle" font-weight="normal" fill="#1a1a1a" textLength="14.01" lengthAdjust="spacingAndGlyphs" >17*</text>
<text x="113.9" y="411.59999999999997" font-size="8.85" text-anchor="middle" font-weight="normal" fill="#1a1a1a" >CD4 Effector</text>
<text x="187.6" y="411.59999999999997" font-size="8.6" text-anchor="middle" font-weight="normal" fill="#1a1a1a" >High</text>
<text x="319.04999999999995" y="411.59999999999997" font-size="8.6" text-anchor="middle" font-weight="normal" fill="#1a1a1a" textLength="109.5" lengthAdjust="spacingAndGlyphs" >CD3+CD4+CD28+CD27+</text>
<text x="446.85" y="411.59999999999997" font-size="9.1" text-anchor="middle" font-weight="normal" fill="#1a1a1a" textLength="18.16" lengthAdjust="spacingAndGlyphs" >6.74</text>
<text x="490.1" y="411.59999999999997" font-size="9.1" text-anchor="middle" font-weight="normal" fill="#1a1a1a" textLength="28.54" lengthAdjust="spacingAndGlyphs" >.00565</text>
<text x="46.65" y="423.8" font-size="9.1" text-anchor="middle" font-weight="normal" fill="#1a1a1a" textLength="10.38" lengthAdjust="spacingAndGlyphs" >25</text>
<text x="113.9" y="423.8" font-size="8.85" text-anchor="middle" font-weight="normal" fill="#1a1a1a" >CD8 Effector Memory</text>
<text x="187.6" y="423.8" font-size="8.6" text-anchor="middle" font-weight="normal" fill="#1a1a1a" >Low</text>
<text x="319.04999999999995" y="423.8" font-size="8.6" text-anchor="middle" font-weight="normal" fill="#1a1a1a" textLength="142.9" lengthAdjust="spacingAndGlyphs" >CD3+CD8+CD161+CD27+CD28+</text>
<text x="446.85" y="423.8" font-size="9.1" text-anchor="middle" font-weight="normal" fill="#1a1a1a" textLength="18.16" lengthAdjust="spacingAndGlyphs" >0.24</text>
<text x="490.1" y="423.8" font-size="9.1" text-anchor="middle" font-weight="normal" fill="#1a1a1a" textLength="28.54" lengthAdjust="spacingAndGlyphs" >.08530</text>
<text x="46.65" y="435.99999999999994" font-size="9.1" text-anchor="middle" font-weight="normal" fill="#1a1a1a" textLength="10.38" lengthAdjust="spacingAndGlyphs" >31</text>
<text x="113.9" y="435.99999999999994" font-size="8.85" text-anchor="middle" font-weight="normal" fill="#1a1a1a" >CD8 T-cell</text>
<text x="187.6" y="435.99999999999994" font-size="8.6" text-anchor="middle" font-weight="normal" fill="#1a1a1a" >High</text>
<text x="319.04999999999995" y="435.99999999999994" font-size="8.6" text-anchor="middle" font-weight="normal" fill="#1a1a1a" textLength="82.1" lengthAdjust="spacingAndGlyphs" >CD3+CD8+CD27+</text>
<text x="446.85" y="435.99999999999994" font-size="9.1" text-anchor="middle" font-weight="normal" fill="#1a1a1a" textLength="23.35" lengthAdjust="spacingAndGlyphs" >10.19</text>
<text x="490.1" y="435.99999999999994" font-size="9.1" text-anchor="middle" font-weight="normal" fill="#1a1a1a" textLength="28.54" lengthAdjust="spacingAndGlyphs" >.01967</text>
<text x="46.65" y="448.2" font-size="9.1" text-anchor="middle" font-weight="normal" fill="#1a1a1a" textLength="17.64" lengthAdjust="spacingAndGlyphs" >35**</text>
<text x="113.9" y="448.2" font-size="8.85" text-anchor="middle" font-weight="normal" fill="#1a1a1a" >NK cell</text>
<text x="187.6" y="448.2" font-size="8.6" text-anchor="middle" font-weight="normal" fill="#1a1a1a" >High</text>
<text x="319.04999999999995" y="448.2" font-size="8.6" text-anchor="middle" font-weight="normal" fill="#1a1a1a" textLength="155.4" lengthAdjust="spacingAndGlyphs" >CD16+CD56+CD57+CD161+CD38+</text>
<text x="446.85" y="448.2" font-size="9.1" text-anchor="middle" font-weight="normal" fill="#1a1a1a" textLength="18.16" lengthAdjust="spacingAndGlyphs" >6.63</text>
<text x="490.1" y="448.2" font-size="9.1" text-anchor="middle" font-weight="normal" fill="#1a1a1a" textLength="28.54" lengthAdjust="spacingAndGlyphs" >.00096</text>
<rect x="28.5" y="596.5" width="484.1" height="15.100000000000023" fill="#c6c8e0" stroke="none" stroke-width="0"/>
<line x1="28.0" y1="596.5" x2="513.1" y2="596.5" stroke="#585c68" stroke-width="1.1"/>
<line x1="28.0" y1="611.6" x2="513.1" y2="611.6" stroke="#585c68" stroke-width="1.1"/>
<line x1="28.0" y1="624.0" x2="513.1" y2="624.0" stroke="#585c68" stroke-width="1.1"/>
<line x1="28.0" y1="636.3" x2="513.1" y2="636.3" stroke="#585c68" stroke-width="1.1"/>
<line x1="28.0" y1="648.6" x2="513.1" y2="648.6" stroke="#585c68" stroke-width="1.1"/>
<line x1="28.0" y1="660.9" x2="513.1" y2="660.9" stroke="#585c68" stroke-width="1.1"/>
<line x1="28.0" y1="673.1" x2="513.1" y2="673.1" stroke="#585c68" stroke-width="1.1"/>
<line x1="28.0" y1="685.4" x2="513.1" y2="685.4" stroke="#585c68" stroke-width="1.1"/>
<line x1="28.5" y1="596.5" x2="28.5" y2="685.4" stroke="#585c68" stroke-width="1.1"/>
<line x1="64.8" y1="596.5" x2="64.8" y2="685.4" stroke="#585c68" stroke-width="1.1"/>
<line x1="176.5" y1="596.5" x2="176.5" y2="685.4" stroke="#585c68" stroke-width="1.1"/>
<line x1="225.4" y1="596.5" x2="225.4" y2="685.4" stroke="#585c68" stroke-width="1.1"/>
<line x1="425.9" y1="596.5" x2="425.9" y2="685.4" stroke="#585c68" stroke-width="1.1"/>
<line x1="468.1" y1="596.5" x2="468.1" y2="685.4" stroke="#585c68" stroke-width="1.1"/>
<line x1="512.6" y1="596.5" x2="512.6" y2="685.4" stroke="#585c68" stroke-width="1.1"/>
<text x="84.4" y="590.2" font-size="10.6" text-anchor="start" font-weight="normal" fill="#111" textLength="371.4" lengthAdjust="spacingAndGlyphs" >T-cell clusters based on response to therapy, complete remission or no remission</text>
<text x="46.65" y="607.25" font-size="8.8" text-anchor="middle" font-weight="normal" fill="#222" >Cluster</text>
<text x="120.65" y="607.25" font-size="8.8" text-anchor="middle" font-weight="normal" fill="#222" >Cell Type</text>
<text x="200.95" y="607.25" font-size="8.8" text-anchor="middle" font-weight="normal" fill="#222" >High/Low</text>
<text x="325.65" y="607.25" font-size="8.8" text-anchor="middle" font-weight="normal" fill="#222" >Phenotype</text>
<text x="447.0" y="607.25" font-size="8.8" text-anchor="middle" font-weight="normal" fill="#222" >% Total</text>
<text x="490.35" y="607.25" font-size="8.8" text-anchor="middle" font-weight="normal" fill="#222" ><tspan font-style="italic">P</tspan>-value</text>
<text x="46.65" y="621.5" font-size="9.1" text-anchor="middle" font-weight="normal" fill="#1a1a1a" textLength="5.19" lengthAdjust="spacingAndGlyphs" >5</text>
<text x="120.65" y="621.5" font-size="8.85" text-anchor="middle" font-weight="normal" fill="#1a1a1a" >γ/δ T-cell</text>
<text x="200.95" y="621.5" font-size="8.6" text-anchor="middle" font-weight="normal" fill="#1a1a1a" >Low</text>
<text x="325.65" y="621.5" font-size="8.6" text-anchor="middle" font-weight="normal" fill="#1a1a1a" textLength="53.7" lengthAdjust="spacingAndGlyphs" >CD3+TCRγ/δ</text>
<text x="447.0" y="621.5" font-size="9.1" text-anchor="middle" font-weight="normal" fill="#1a1a1a" textLength="23.35" lengthAdjust="spacingAndGlyphs" >2.557</text>
<text x="490.35" y="621.5" font-size="9.1" text-anchor="middle" font-weight="normal" fill="#1a1a1a" textLength="28.54" lengthAdjust="spacingAndGlyphs" >.08412</text>
<text x="46.65" y="633.85" font-size="9.1" text-anchor="middle" font-weight="normal" fill="#1a1a1a" textLength="5.19" lengthAdjust="spacingAndGlyphs" >7</text>
<text x="120.65" y="633.85" font-size="8.85" text-anchor="middle" font-weight="normal" fill="#1a1a1a" >CD4 Memory</text>
<text x="200.95" y="633.85" font-size="8.6" text-anchor="middle" font-weight="normal" fill="#1a1a1a" >High</text>
<text x="325.65" y="633.85" font-size="8.6" text-anchor="middle" font-weight="normal" fill="#1a1a1a" textLength="115.2" lengthAdjust="spacingAndGlyphs" >CD3+CD4+CD28+CD127+</text>
<text x="447.0" y="633.85" font-size="9.1" text-anchor="middle" font-weight="normal" fill="#1a1a1a" textLength="23.35" lengthAdjust="spacingAndGlyphs" >4.010</text>
<text x="490.35" y="633.85" font-size="9.1" text-anchor="middle" font-weight="normal" fill="#1a1a1a" textLength="28.54" lengthAdjust="spacingAndGlyphs" >.09600</text>
<text x="46.65" y="646.1500000000001" font-size="9.1" text-anchor="middle" font-weight="normal" fill="#1a1a1a" textLength="14.01" lengthAdjust="spacingAndGlyphs" >14*</text>
<text x="120.65" y="646.1500000000001" font-size="8.85" text-anchor="middle" font-weight="normal" fill="#1a1a1a" textLength="100.6" lengthAdjust="spacingAndGlyphs" >CD8 Cytotoxic/Exhausted</text>
<text x="200.95" y="646.1500000000001" font-size="8.6" text-anchor="middle" font-weight="normal" fill="#1a1a1a" >Low</text>
<text x="325.65" y="646.1500000000001" font-size="8.6" text-anchor="middle" font-weight="normal" fill="#1a1a1a" textLength="79.5" lengthAdjust="spacingAndGlyphs" >CD3+CD8+CD57+</text>
<text x="447.0" y="646.1500000000001" font-size="9.1" text-anchor="middle" font-weight="normal" fill="#1a1a1a" textLength="23.35" lengthAdjust="spacingAndGlyphs" >3.640</text>
<text x="490.35" y="646.1500000000001" font-size="9.1" text-anchor="middle" font-weight="normal" fill="#1a1a1a" textLength="28.54" lengthAdjust="spacingAndGlyphs" >.01215</text>
<text x="46.65" y="658.45" font-size="9.1" text-anchor="middle" font-weight="normal" fill="#1a1a1a" textLength="10.38" lengthAdjust="spacingAndGlyphs" >18</text>
<text x="120.65" y="658.45" font-size="8.85" text-anchor="middle" font-weight="normal" fill="#1a1a1a" >DC</text>
<text x="200.95" y="658.45" font-size="8.6" text-anchor="middle" font-weight="normal" fill="#1a1a1a" >Low</text>
<text x="325.65" y="658.45" font-size="8.6" text-anchor="middle" font-weight="normal" fill="#1a1a1a" textLength="94.1" lengthAdjust="spacingAndGlyphs" >CD11c+CD33+CD38+</text>
<text x="447.0" y="658.45" font-size="9.1" text-anchor="middle" font-weight="normal" fill="#1a1a1a" textLength="23.35" lengthAdjust="spacingAndGlyphs" >0.048</text>
<text x="490.35" y="658.45" font-size="9.1" text-anchor="middle" font-weight="normal" fill="#1a1a1a" textLength="28.54" lengthAdjust="spacingAndGlyphs" >.05286</text>
<text x="46.65" y="670.7" font-size="9.1" text-anchor="middle" font-weight="normal" fill="#1a1a1a" textLength="14.01" lengthAdjust="spacingAndGlyphs" >21*</text>
<text x="120.65" y="670.7" font-size="8.85" text-anchor="middle" font-weight="normal" fill="#1a1a1a" >CD4 activated</text>
<text x="200.95" y="670.7" font-size="8.6" text-anchor="middle" font-weight="normal" fill="#1a1a1a" >Low</text>
<text x="325.65" y="670.7" font-size="8.6" text-anchor="middle" font-weight="normal" fill="#1a1a1a" textLength="127.9" lengthAdjust="spacingAndGlyphs" >CD4+CD28+CD27+CD45RO+</text>
<text x="447.0" y="670.7" font-size="9.1" text-anchor="middle" font-weight="normal" fill="#1a1a1a" textLength="23.35" lengthAdjust="spacingAndGlyphs" >0.002</text>
<text x="490.35" y="670.7" font-size="9.1" text-anchor="middle" font-weight="normal" fill="#1a1a1a" textLength="28.54" lengthAdjust="spacingAndGlyphs" >.03319</text>
<text x="46.65" y="682.95" font-size="9.1" text-anchor="middle" font-weight="normal" fill="#1a1a1a" textLength="14.01" lengthAdjust="spacingAndGlyphs" >29*</text>
<text x="120.65" y="682.95" font-size="8.85" text-anchor="middle" font-weight="normal" fill="#1a1a1a" >B-cell activated</text>
<text x="200.95" y="682.95" font-size="8.6" text-anchor="middle" font-weight="normal" fill="#1a1a1a" >Low</text>
<text x="323.04999999999995" y="682.95" font-size="8.6" text-anchor="middle" font-weight="normal" fill="#1a1a1a" textLength="182.9" lengthAdjust="spacingAndGlyphs" >CD20+CD19+IgD+CXCR5+HLA-DR+CD197+</text>
<text x="447.0" y="682.95" font-size="9.1" text-anchor="middle" font-weight="normal" fill="#1a1a1a" textLength="23.35" lengthAdjust="spacingAndGlyphs" >2.520</text>
<text x="490.35" y="682.95" font-size="9.1" text-anchor="middle" font-weight="normal" fill="#1a1a1a" textLength="28.54" lengthAdjust="spacingAndGlyphs" >.01574</text>
</svg>
</body></html>
